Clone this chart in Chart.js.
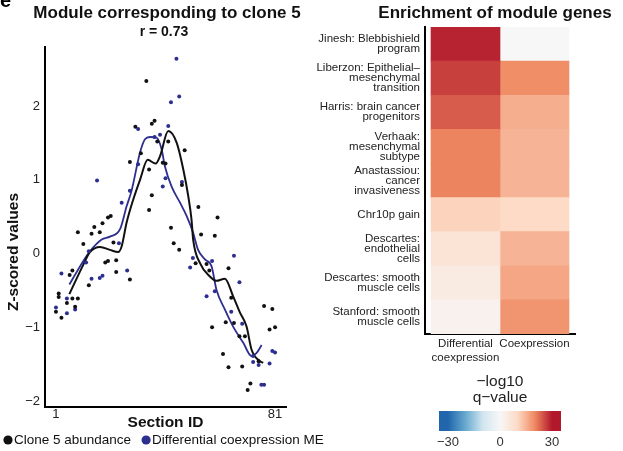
<!DOCTYPE html>
<html><head><meta charset="utf-8">
<script src="https://cdn.jsdelivr.net/npm/chart.js@4.4.1/dist/chart.umd.min.js"></script>
<style>
html,body{margin:0;padding:0;background:#fff;width:623px;height:451px;overflow:hidden}
#left{position:absolute;left:0;top:0;width:334px;height:451px}
#right{position:absolute;left:300px;top:0;width:323px;height:451px}
</style></head><body>
<canvas id="left" width="334" height="451"></canvas>
<canvas id="right" width="323" height="451"></canvas>
<script>
// ---------- Left panel data ----------
const cloneX = [34,37,36,30,38,42,32,48,28,40,41,35,47,36,53,20,21,60,9,11,14,15,18,17,43,44,46,54,59,52,64,65,58,63,66,68,70,62,64,69,72,71,75,77,80,79,81,6,7,2,2,7,9,5,1,8,3,13,19,20,23,23,28,22,35,56,57];
const cloneY = [2.34,1.80,1.76,1.72,1.52,1.52,1.36,1.40,1.24,1.23,1.22,1.14,0.93,0.79,0.63,0.49,0.51,0.49,0.29,0.13,0.27,0.36,0.41,0.29,0.35,0.14,0.05,0.26,0.24,-0.13,-0.20,-0.60,-1.00,-0.93,-0.94,-1.12,-1.12,-1.36,-1.54,-1.53,-1.76,-1.85,-1.46,-0.71,-0.75,-1.03,-1.00,-0.29,-0.23,-0.54,-0.59,-0.61,-0.61,-0.67,-0.79,-0.72,-0.87,-0.43,-0.12,-0.10,-0.09,-0.25,-0.35,0.15,0.59,-0.14,-0.23];
const meX = [45,46,43,31,42,39,37,31,41,16,47,40,28,25,51,50,66,68,56,65,73,79,76,77,80,81,3,5,1,8,5,14,17,18,27,24,58,69,75,13,12,59,73];
const meY = [2.64,2.13,2.05,1.69,1.73,1.61,1.58,1.21,1.02,0.99,0.97,0.91,0.85,0.69,-0.06,-0.19,-0.03,-0.39,-0.58,-0.79,-1.47,-1.49,-1.78,-1.78,-1.32,-1.34,-0.27,-0.61,-0.73,-0.76,-0.81,-0.34,-0.33,-0.30,-0.23,0.14,-0.10,-0.95,-1.51,0.03,-0.12,-0.51,-1.39];
const cloneSmoothX = [5.9,11.0,13.4,17.1,20.7,23.7,25.0,26.8,29.2,31.7,34.5,37.4,39.0,42.0,45.1,47.5,49.3,50.5,51.1,53.6,57.2,59.6,62.7,65.7,68.2,70.6,72.4,75.5,76.7];
const cloneSmoothY = [-0.55,-0.15,0.02,0.09,0.05,0.02,0.10,0.42,0.73,1.00,1.27,1.22,1.32,1.66,1.50,1.14,0.78,0.46,0.19,-0.13,-0.31,-0.37,-0.34,-0.58,-0.80,-0.99,-1.30,-1.46,-1.48];
const meSmoothX = [5.9,11.0,13.4,17.7,20.7,24.4,26.8,28.6,31.7,33.5,35.3,37.8,39.6,40.8,43.2,46.3,48.7,51.1,52.9,55.4,57.8,59.6,62.7,65.7,69.4,72.4,74.2,76.1];
const meSmoothY = [-0.42,-0.10,0.03,0.19,0.23,0.33,0.64,0.85,1.37,1.55,1.58,1.57,1.41,1.18,0.91,0.69,0.51,0.28,0.05,-0.08,-0.17,-0.49,-0.76,-0.99,-1.21,-1.39,-1.35,-1.24];
const xTicks = [1, 81];
const yTicks = [-2, -1, 0, 1, 2];

// ---------- Right panel data ----------
const rowLabels = [
  ['Jinesh: Blebbishield','program'],
  ['Liberzon: Epithelial\u2013','mesenchymal','transition'],
  ['Harris: brain cancer','progenitors'],
  ['Verhaak:','mesenchymal','subtype'],
  ['Anastassiou:','cancer','invasiveness'],
  'Chr10p gain',
  ['Descartes:','endothelial','cells'],
  ['Descartes: smooth','muscle cells'],
  ['Stanford: smooth','muscle cells']
];
const columnLabels = [['Differential','coexpression'], 'Coexpression'];
const diffValues = [29, 26.5, 24, 20.5, 20.5, 11, 7, 4.3, 2];
const coexValues = [0, 19.5, 15.6, 15, 15, 10, 15, 16.5, 18.6];
const colorbarTicks = [-30, 0, 30];

// ---------- colour scale ----------
const stopV = [-30,-20,-10,0,10,20,30];
const stopC = ['#2166ac','#67a9cf','#d1e5f0','#f7f7f7','#fddbc7','#ef8a62','#b2182b'];
function hex(c){return [parseInt(c.slice(1,3),16),parseInt(c.slice(3,5),16),parseInt(c.slice(5,7),16)];}
function colorFor(v){
  v = Math.max(-30, Math.min(30, v));
  for (let i=0;i<stopV.length-1;i++){
    if (v <= stopV[i+1]){
      const t=(v-stopV[i])/(stopV[i+1]-stopV[i]);
      const a=hex(stopC[i]), b=hex(stopC[i+1]);
      return 'rgb('+a.map((x,k)=>Math.round(x+(b[k]-x)*t)).join(',')+')';
    }
  }
  return stopC[stopC.length-1];
}

const FONT = '"Liberation Sans", Arial, Helvetica, sans-serif';
const BLUE = '#2d2f8e';
const zip = (xs, ys) => xs.map((x,i)=>({x:x, y:ys[i]}));

// ---------- Left chart ----------
const leftDecor = {
  id:'leftDecor',
  afterDraw(chart){
    const c=chart.ctx; c.save();
    c.font='bold 20px '+FONT; c.fillStyle='#000'; c.textBaseline='alphabetic'; c.textAlign='left';
    c.fillText('e', 0, 7);
    // titles
    c.textAlign='center'; c.textBaseline='middle'; c.fillStyle='#111';
    c.font='bold 17px '+FONT;
    c.fillText('Module corresponding to clone 5', 167, 13);
    c.font='bold 14px '+FONT;
    c.fillText('r = 0.73', 164, 32);
    // y axis title
    c.save();
    c.translate(14, 252); c.rotate(-Math.PI/2);
    c.font='bold 15.5px '+FONT;
    c.fillText('Z-scored values', 0, 0);
    c.restore();
    // legend (single row, like the original)
    c.font='13.5px '+FONT; c.textBaseline='middle'; c.textAlign='left';
    let x = 3; const y = 440;
    chart.data.datasets.forEach(ds=>{
      if (!ds.label) return;
      c.fillStyle = ds.backgroundColor;
      c.beginPath(); c.arc(x+5, y, 4.6, 0, Math.PI*2); c.fill();
      c.fillStyle = '#111';
      c.fillText(ds.label, x+11, y);
      x += 11 + c.measureText(ds.label).width + 10;
    });
    c.restore();
  }
};
new Chart(document.getElementById('left'), {
  type:'scatter',
  data:{datasets:[
    {label:'Clone 5 abundance', data:zip(cloneX,cloneY), backgroundColor:'#111', borderColor:'#111', pointRadius:2, pointBorderWidth:0},
    {label:'Differential coexpression ME', data:zip(meX,meY), backgroundColor:BLUE, borderColor:BLUE, pointRadius:2, pointBorderWidth:0},
    {label:'', data:zip(cloneSmoothX,cloneSmoothY), showLine:true, borderColor:'#111', backgroundColor:'#111', borderWidth:2, pointRadius:0, cubicInterpolationMode:'monotone', fill:false},
    {label:'', data:zip(meSmoothX,meSmoothY), showLine:true, borderColor:BLUE, backgroundColor:BLUE, borderWidth:1.8, pointRadius:0, cubicInterpolationMode:'monotone', fill:false}
  ]},
  options:{
    responsive:false, animation:false,
    layout:{padding:{left:0,right:48,top:47,bottom:19}},
    plugins:{
      tooltip:{enabled:false},
      legend:{display:false},
      title:{display:false},
      subtitle:{display:false}
    },
    scales:{
      x:{type:'linear', min:-3, max:85,
        afterBuildTicks:(s)=>{s.ticks=xTicks.map(v=>({value:v}));},
        afterFit:(s)=>{s.height=25;},
        grid:{display:false, drawTicks:false}, border:{display:true, color:'#000', width:2},
        ticks:{color:'#222', font:{family:FONT,size:13}, padding:0, maxRotation:0},
        title:{display:true, text:'Section ID', color:'#111', font:{family:FONT,size:15.5,weight:'bold'}, padding:{top:0,bottom:0}}
      },
      y:{type:'linear', min:-2.08, max:2.8,
        afterBuildTicks:(s)=>{s.ticks=yTicks.map(v=>({value:v}));},
        afterFit:(s)=>{s.width=45;},
        grid:{display:false, drawTicks:false}, border:{display:true, color:'#000', width:2},
        ticks:{color:'#222', font:{family:FONT,size:13}, padding:5, callback:(v)=>String(v).replace('-','\u2212')},
        title:{display:false}
      }
    }
  },
  plugins:[leftDecor]
});

// ---------- Right chart (heatmap) ----------
const rightDecor = {
  id:'rightDecor',
  afterDraw(chart){
    const c=chart.ctx, ca=chart.chartArea; c.save();
    const cx=(ca.left+ca.right)/2;
    c.fillStyle='#111'; c.textAlign='center'; c.textBaseline='middle';
    c.font='bold 17px '+FONT;
    c.fillText('Enrichment of module genes', cx-5, 13);
    // colour bar
    c.font='15.5px '+FONT; c.fillStyle='#222';
    c.fillText('\u2212log10', cx, 382);
    c.fillText('q\u2212value', cx, 398);
    const bx0=cx-61, bx1=cx+61, by0=411, by1=431;
    const pxPer = 52/30;
    for (let x=bx0; x<bx1; x++){
      c.fillStyle=colorFor((x+0.5-cx)/pxPer);
      c.fillRect(x,by0,1,by1-by0);
    }
    c.font='13px '+FONT; c.fillStyle='#333';
    colorbarTicks.forEach(t=>{
      c.fillText(String(t).replace('-','\u2212'), cx+t*pxPer, 442);
    });
    c.restore();
  }
};
new Chart(document.getElementById('right'), {
  type:'bar',
  data:{
    labels:rowLabels,
    datasets:[
      {label:'Differential coexpression', data:diffValues.map(()=>[0,1]), backgroundColor:diffValues.map(colorFor), borderWidth:0, borderSkipped:false, barPercentage:1, categoryPercentage:1, grouped:false},
      {label:'Coexpression', data:coexValues.map(()=>[1,2]), backgroundColor:coexValues.map(colorFor), borderWidth:0, borderSkipped:false, barPercentage:1, categoryPercentage:1, grouped:false}
    ]
  },
  options:{
    indexAxis:'y', responsive:false, animation:false,
    layout:{padding:{left:0,right:48,top:27,bottom:87}},
    plugins:{legend:{display:false}, tooltip:{enabled:false}},
    scales:{
      x:{type:'linear', min:-0.087, max:2.087,
        afterBuildTicks:(s)=>{s.ticks=columnLabels.map((l,i)=>({value:i+0.5}));},
        afterFit:(s)=>{s.height=30;},
        grid:{display:false, drawTicks:false}, border:{display:true,color:'#000',width:2},
        ticks:{color:'#222', font:{family:FONT,size:11.5}, padding:3, maxRotation:0, autoSkip:false,
          callback:(v,i)=>columnLabels[i]}
      },
      y:{type:'category',
        afterFit:(s)=>{s.width=125;},
        grid:{display:false, drawTicks:false}, border:{display:true,color:'#000',width:2},
        ticks:{color:'#222', font:{family:FONT,size:11.5,lineHeight:0.87}, padding:5, autoSkip:false}
      }
    }
  },
  plugins:[rightDecor]
});
</script>
</body></html>
